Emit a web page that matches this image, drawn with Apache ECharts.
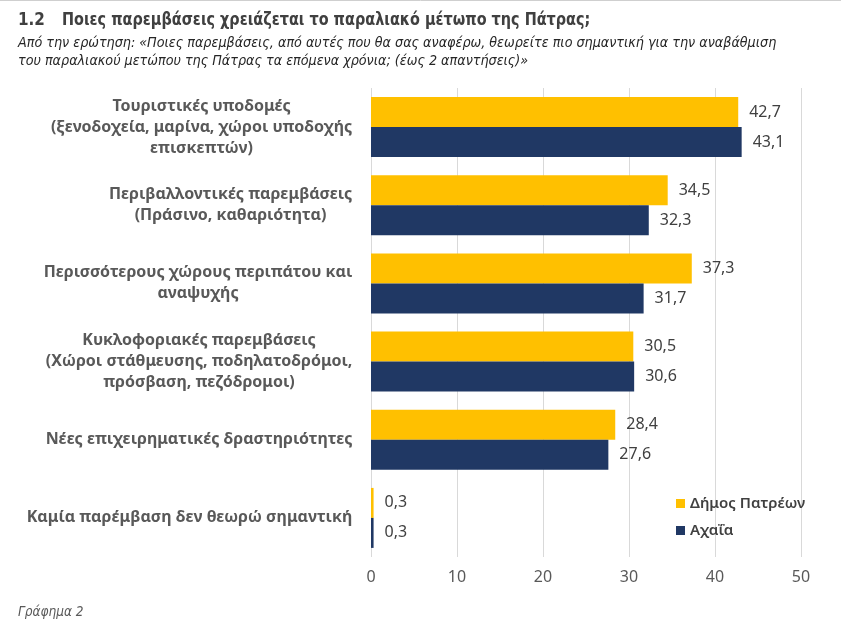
<!DOCTYPE html>
<html>
<head>
<meta charset="utf-8">
<script src="https://cdn.jsdelivr.net/npm/echarts@6/dist/echarts.min.js"></script>
<style>html,body{margin:0;padding:0;background:#fff}#c{width:841px;height:628px}</style>
</head>
<body>
<div id="c"></div>
<script>
const categories = [
  'Τουριστικές υποδομές\n(ξενοδοχεία, μαρίνα, χώροι υποδοχής\nεπισκεπτών)',
  'Περιβαλλοντικές παρεμβάσεις\n(Πράσινο, καθαριότητα)',
  'Περισσότερους χώρους περιπάτου και\nαναψυχής',
  'Κυκλοφοριακές παρεμβάσεις\n(Χώροι στάθμευσης, ποδηλατοδρόμοι,\nπρόσβαση, πεζόδρομοι)',
  'Νέες επιχειρηματικές δραστηριότητες',
  'Καμία παρέμβαση δεν θεωρώ σημαντική'
];
const seriesNames = ['Δήμος Πατρέων', 'Αχαΐα'];
const dimosPatreon = [42.7, 34.5, 37.3, 30.5, 28.4, 0.3];
const achaia = [43.1, 32.3, 31.7, 30.6, 27.6, 0.3];
const xTicks = [0, 10, 20, 30, 40, 50];

const titleNum = '1.2';
const titleText = 'Ποιες παρεμβάσεις χρειάζεται το παραλιακό μέτωπο της Πάτρας;';
const subtitleLines = [
  'Από την ερώτηση: «Ποιες παρεμβάσεις, από αυτές που θα σας αναφέρω, θεωρείτε πιο σημαντική για την αναβάθμιση',
  'του παραλιακού μετώπου της Πάτρας τα επόμενα χρόνια; (έως 2 απαντήσεις)»'
];
const footer = 'Γράφημα 2';

const labelFont = 'bold 16px "Noto Sans"';
const cv = document.createElement('canvas').getContext('2d');
cv.font = labelFont;
const rich = {};
categories.forEach((c, i) => {
  const w = Math.max(...c.split('\n').map(l => cv.measureText(l).width));
  rich['c' + i] = { width: Math.ceil(w) + 1, align: 'center', fontFamily: 'Noto Sans', fontWeight: 'bold', fontSize: 16, color: '#595959', lineHeight: 21 };
});

const fmt = v => String(v.value !== undefined ? v.value : v).replace('.', ',');
const condensed = '"Liberation Sans Narrow", "DejaVu Sans Condensed"';

const chart = echarts.init(document.getElementById('c'), null, { renderer: 'canvas' });
chart.setOption({
  animation: false,
  backgroundColor: '#fff',
  grid: { left: 371, right: 40, top: 88, bottom: 71, containLabel: false },
  legend: {
    orient: 'vertical',
    left: 671,
    top: 491,
    itemWidth: 9,
    itemHeight: 9,
    itemGap: 12,
    icon: 'rect',
    textStyle: { fontFamily: 'Noto Sans', fontSize: 15, fontWeight: 600, color: '#404040' },
    data: seriesNames
  },
  xAxis: {
    type: 'value',
    min: 0, max: 50, interval: 10,
    axisLine: { show: false },
    axisTick: { show: false },
    splitLine: { lineStyle: { color: '#d9d9d9', width: 1 } },
    axisLabel: { fontFamily: 'Noto Sans', fontSize: 16, color: '#595959', margin: 12,
      formatter: v => xTicks.includes(v) ? String(v) : '' }
  },
  yAxis: {
    type: 'category',
    inverse: true,
    data: categories,
    axisLine: { show: false },
    axisTick: { show: false },
    axisLabel: {
      margin: 18,
      align: 'right',
      formatter: (val, idx) => val.split('\n').map(l => '{c' + idx + '|' + l + '}').join('\n'),
      rich: rich
    }
  },
  series: [
    {
      name: seriesNames[0], type: 'bar', data: dimosPatreon, barWidth: 30, barGap: '0%',
      itemStyle: { color: '#FFC000' },
      label: { show: true, position: 'right', distance: 11, formatter: fmt,
        fontFamily: 'Noto Sans', fontSize: 16, color: '#404040' }
    },
    {
      name: seriesNames[1], type: 'bar', data: achaia, barWidth: 30,
      itemStyle: { color: '#203864' },
      label: { show: true, position: 'right', distance: 11, formatter: fmt,
        fontFamily: 'Noto Sans', fontSize: 16, color: '#404040' }
    }
  ],
  graphic: [
    { type: 'line', shape: { x1: 0, y1: 0.5, x2: 841, y2: 0.5 }, style: { stroke: '#cfcfcf', lineWidth: 1 } },
    { type: 'text', x: 18, y: 11, scaleX: 0.94, style: { text: titleNum, font: 'bold 18px ' + condensed, fill: '#404040' } },
    { type: 'text', x: 62, y: 11, scaleX: 0.89, style: { text: titleText, font: 'bold 18px ' + condensed, fill: '#404040' } },
    { type: 'text', x: 18, y: 36, style: { text: subtitleLines[0], font: 'italic 14.2px ' + condensed, fill: '#262626' } },
    { type: 'text', x: 18, y: 54, style: { text: subtitleLines[1], font: 'italic 14.2px ' + condensed, fill: '#262626' } },
    { type: 'text', x: 18, y: 605, style: { text: footer, font: 'italic 13.5px ' + condensed, fill: '#595959' } }
  ]
});
</script>
</body>
</html>
